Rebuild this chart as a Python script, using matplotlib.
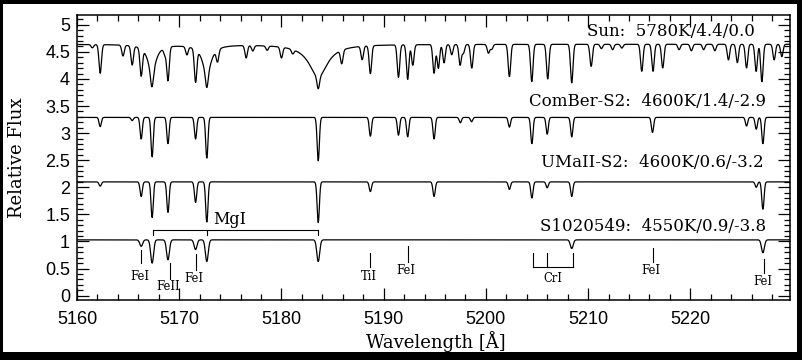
import numpy as np
import matplotlib
matplotlib.use("Agg")
import matplotlib.pyplot as plt
from matplotlib.patches import Rectangle
from matplotlib.ticker import MultipleLocator

# griglia in lunghezza d'onda (Angstrom)
wave = np.arange(5160.0, 5229.8, 0.04)

# Sole: continuo, righe (centro, profondita')
sun_cont = 4.64
sun_lines = [5161.5, 5162.27, 5164.5, 5165.4, 5166.28, 5167.33, 5168.6, 5168.9, 5170.75,
             5171.6, 5172.7, 5173.75, 5176.55, 5177.2, 5178.6, 5180.0, 5181.1, 5183.6,
             5185.9, 5187.9, 5188.7, 5191.45, 5192.35, 5192.85, 5194.93, 5195.35, 5195.91,
             5196.66, 5197.48, 5197.8, 5198.62, 5200.25, 5200.57, 5202.3, 5204.49, 5206.05,
             5208.4, 5210.3, 5211.3, 5212.4, 5213.3, 5215.25, 5216.35, 5217.3, 5218.9,
             5220.1, 5221.3, 5222.4, 5223.73, 5224.6, 5225.5, 5226.44, 5227.0, 5228.2, 5228.95]
sun_depths = [0.06, 0.53, 0.2, 0.35, 0.5, 0.23, 0.12, 0.62, 0.15,
              0.6, 0.24, 0.22, 0.23, 0.1, 0.08, 0.2, 0.08, 0.22,
              0.25, 0.25, 0.52, 0.6, 0.64, 0.38, 0.53, 0.44, 0.34,
              0.19, 0.38, 0.16, 0.44, 0.16, 0.09, 0.6, 0.69, 0.64,
              0.71, 0.41, 0.08, 0.1, 0.07, 0.5, 0.5, 0.44, 0.1,
              0.12, 0.1, 0.12, 0.29, 0.34, 0.44, 0.5, 0.69, 0.29, 0.23]
# ali di smorzamento delle righe forti del MgI
sun_wing_lines = [5167.33, 5172.7, 5183.6]
sun_wing_depths = [0.55, 0.55, 0.6]
sun_wing_widths = [0.45, 0.5, 1.1]

comber_cont = 3.29
comber_lines = [5162.27, 5165.4, 5166.28, 5167.35, 5168.9, 5171.6, 5172.7, 5183.6, 5188.7,
                5191.45, 5192.35, 5194.93, 5197.5, 5198.6, 5202.3, 5204.5, 5206.0, 5208.4,
                5216.3, 5225.5, 5226.45, 5227.1]
comber_depths = [0.17, 0.06, 0.4, 0.73, 0.49, 0.4, 0.76, 0.8, 0.35,
                 0.33, 0.36, 0.4, 0.1, 0.08, 0.18, 0.49, 0.31, 0.36,
                 0.28, 0.16, 0.22, 0.49]

umaii_cont = 2.1
umaii_lines = [5162.27, 5166.28, 5167.35, 5168.9, 5171.6, 5172.7, 5183.6, 5188.7,
               5194.93, 5202.3, 5204.5, 5206.0, 5208.4, 5226.45, 5227.1]
umaii_depths = [0.08, 0.27, 0.66, 0.57, 0.38, 0.75, 0.75, 0.18,
                0.27, 0.14, 0.3, 0.11, 0.27, 0.1, 0.51]

s102_cont = 1.03
s102_lines = [5166.28, 5167.35, 5168.9, 5171.6, 5172.7, 5183.6, 5208.4, 5227.1]
s102_depths = [0.12, 0.43, 0.37, 0.18, 0.4, 0.4, 0.16, 0.24]

labels = ["Sun:  5780K/4.4/0.0", "ComBer-S2:  4600K/1.4/-2.9",
          "UMaII-S2:  4600K/0.6/-3.2", "S1020549:  4550K/0.9/-3.8"]
label_x = [5226.3, 5227.4, 5227.2, 5227.4]
label_y = [4.87, 3.58, 2.45, 1.27]

# identificazioni delle righe sotto lo spettro di S1020549
id_names = ["FeI", "FeII", "FeI", "TiI", "FeI", "FeI", "FeI"]
id_waves = [5166.3, 5169.05, 5171.6, 5188.7, 5192.35, 5216.3, 5227.2]
id_top = [0.85, 0.61, 0.76, 0.79, 0.92, 0.88, 0.68]
id_bottom = [0.61, 0.30, 0.48, 0.53, 0.63, 0.63, 0.42]
id_text_y = [0.35, 0.17, 0.31, 0.35, 0.46, 0.46, 0.26]

mg_waves = [5167.4, 5172.75, 5183.6]
cr_waves = [5204.6, 5206.0, 5208.5]


def spettro(cont, centri, prof, sigma, wc=(), wd=(), wg=()):
    f = np.full_like(wave, cont)
    for c, d in zip(centri, prof):
        f -= d * np.exp(-0.5 * ((wave - c) / sigma) ** 2)
    for c, d, g in zip(wc, wd, wg):
        f -= d / (1 + ((wave - c) / g) ** 2)
    return f


sun = spettro(sun_cont, sun_lines, sun_depths, 0.12,
              sun_wing_lines, sun_wing_depths, sun_wing_widths)
comber = spettro(comber_cont, comber_lines, comber_depths, 0.11)
umaii = spettro(umaii_cont, umaii_lines, umaii_depths, 0.11)
s102 = spettro(s102_cont, s102_lines, s102_depths, 0.14)

fig = plt.figure(figsize=(8.03, 3.6), dpi=100, facecolor="black")
fig.add_artist(Rectangle((3 / 803, 8 / 360), 794 / 803, 348 / 360,
                         transform=fig.transFigure, facecolor="white", edgecolor="none", zorder=0))
ax = fig.add_axes([77 / 803, 60 / 360, 713 / 803, 285 / 360])

for f in [sun, comber, umaii, s102]:
    ax.plot(wave, f, color="black", lw=0.9)

serif = "DejaVu Serif"
for t, x, y in zip(labels, label_x, label_y):
    ax.text(x, y, t, ha="right", va="center", fontsize=12, family=serif)

# righe identificate
for n, w, yt, yb, ty in zip(id_names, id_waves, id_top, id_bottom, id_text_y):
    ax.plot([w, w], [yb, yt], color="black", lw=0.8)
    ax.text(w - 0.15, ty, n, ha="center", va="center", fontsize=8.3, family=serif)

# parentesi MgI
ax.plot([mg_waves[0], mg_waves[-1]], [1.22, 1.22], color="black", lw=0.8)
for w in mg_waves:
    ax.plot([w, w], [1.12, 1.22], color="black", lw=0.8)
ax.text(5173.3, 1.40, "MgI", ha="left", va="center", fontsize=11.5, family=serif)

# parentesi CrI
ax.plot([cr_waves[0], cr_waves[-1]], [0.53, 0.53], color="black", lw=0.8)
for w in cr_waves:
    ax.plot([w, w], [0.53, 0.78], color="black", lw=0.8)
ax.text(5206.5, 0.31, "CrI", ha="center", va="center", fontsize=8.3, family=serif)

ax.set_xlim(5160, 5229.75)
ax.set_ylim(-0.08, 5.18)
ax.xaxis.set_major_locator(MultipleLocator(10))
ax.xaxis.set_minor_locator(MultipleLocator(2))
ax.yaxis.set_major_locator(MultipleLocator(0.5))
ax.yaxis.set_minor_locator(MultipleLocator(0.1))
ax.yaxis.set_major_formatter(plt.FuncFormatter(lambda v, p: f"{v:g}"))
ax.tick_params(which="both", direction="in", top=True, right=True, width=0.9)
ax.tick_params(which="major", length=8.5)
ax.tick_params(which="minor", length=4.5)
ax.tick_params(axis="x", pad=8, labelsize=13)
ax.tick_params(axis="y", pad=5, labelsize=13)
for lab in ax.get_xticklabels() + ax.get_yticklabels():
    lab.set_family("Liberation Sans")
for s in ax.spines.values():
    s.set_linewidth(1.1)

ax.set_xlabel("Wavelength [Å]", fontsize=13, family=serif, va="center")
ax.set_ylabel("Relative Flux", fontsize=13, family=serif, va="center")
ax.xaxis.set_label_coords(0.503, -0.147)
ax.yaxis.set_label_coords(-0.084, 0.5)

fig.savefig("out.png", dpi=100, facecolor="black")
